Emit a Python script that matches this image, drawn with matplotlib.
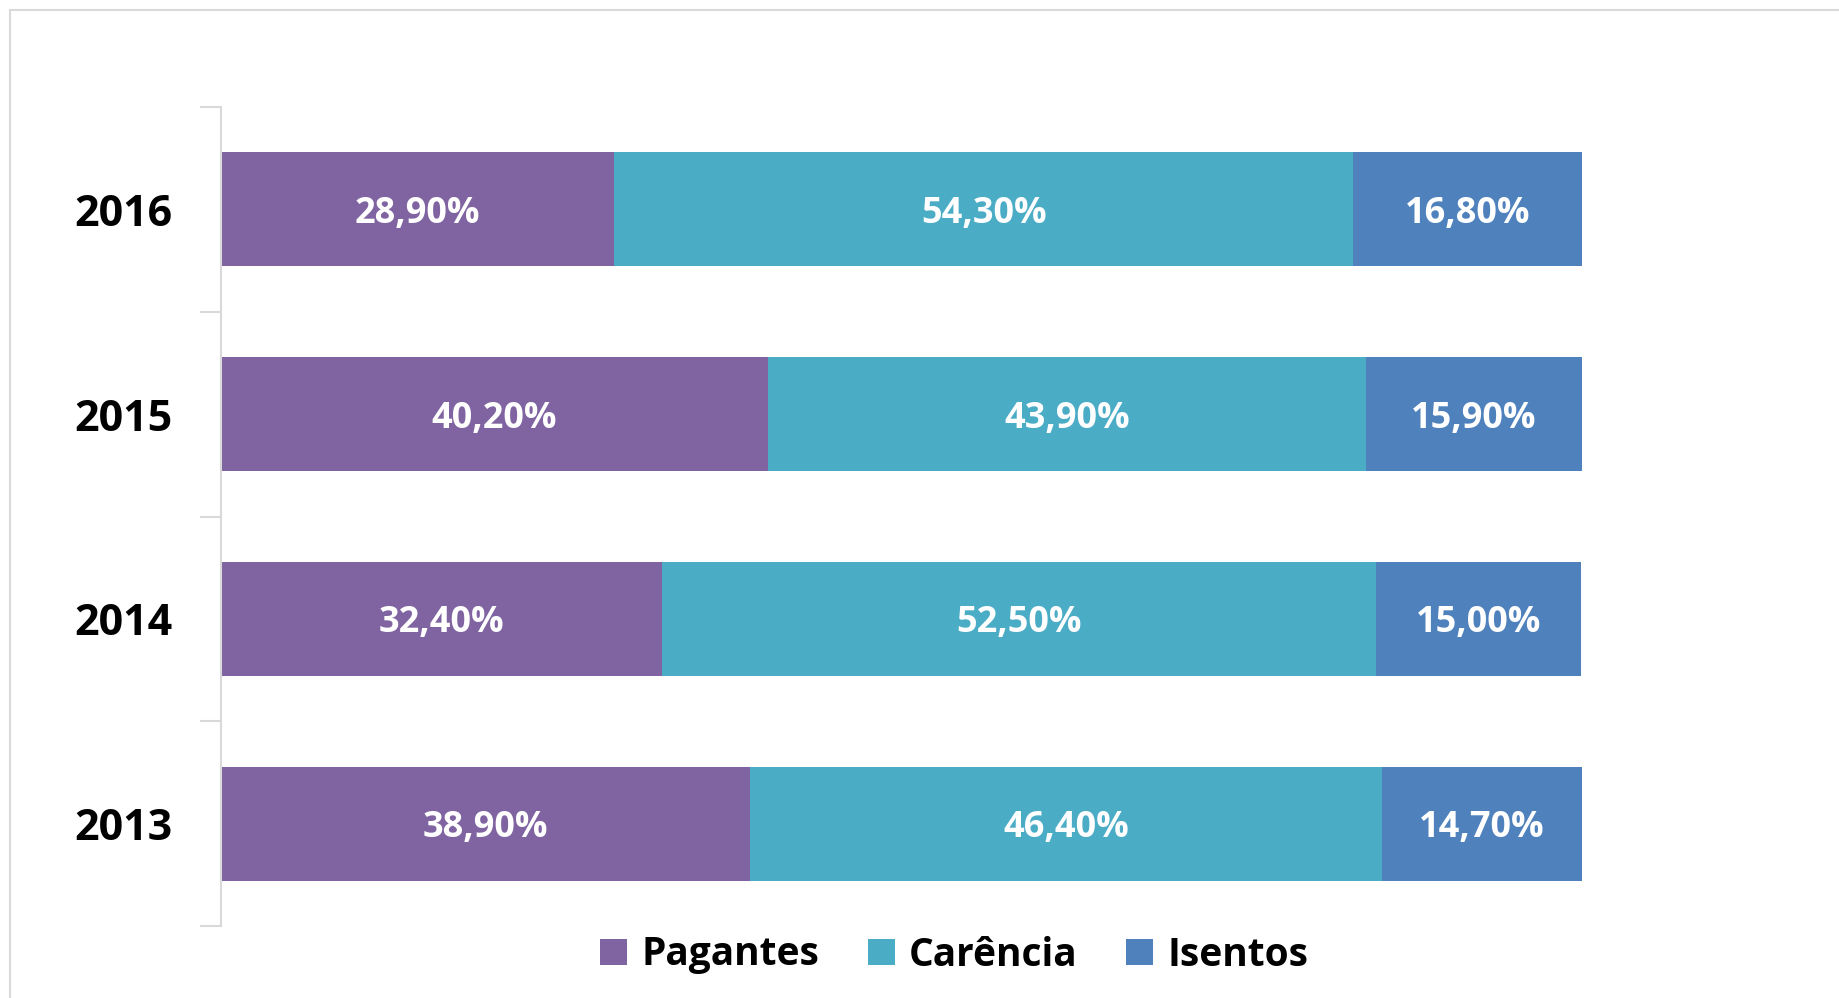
import matplotlib
matplotlib.use("Agg")
import matplotlib.pyplot as plt
from matplotlib.patches import Rectangle
import numpy as np

years = ["2013", "2014", "2015", "2016"]
series = ["Pagantes", "Carência", "Isentos"]
pagantes = [38.9, 32.4, 40.2, 28.9]
carencia = [46.4, 52.5, 43.9, 54.3]
isentos = [14.7, 15.0, 15.9, 16.8]
colors = ["#8064A2", "#4BACC6", "#4F81BD"]

plt.rcParams["font.family"] = ["Open Sans", "DejaVu Sans"]

fig = plt.figure(figsize=(18.39, 9.98), dpi=100)
ax = fig.add_axes([221 / 1839, 1 - 926 / 998, 1361 / 1839, 819 / 998])

# chart frame
fig.patches.append(Rectangle((9.5 / 1839, -0.1), 1.2, 1 - 10 / 998 + 0.1,
                             transform=fig.transFigure, fill=False,
                             edgecolor="#D9D9D9", linewidth=1.5))

ypos = np.arange(len(years))
left = np.zeros(len(years))
for name, vals, c in zip(series, [pagantes, carencia, isentos], colors):
    vals = np.array(vals) / 100
    bars = ax.barh(ypos, vals, left=left, height=0.557, color=c, label=name)
    for b, v in zip(bars, vals):
        ax.text(b.get_x() + b.get_width() / 2, b.get_y() + b.get_height() / 2,
                f"{v * 100:.2f}%".replace(".", ","), ha="center",
                va="center_baseline", color="white", fontsize=26,
                fontweight="bold")
    left += vals

ax.set_xlim(0, 1)
ax.set_ylim(-0.5, 3.5)
ax.set_xticks([])
ax.set_yticks(ypos)
ax.set_yticklabels(years, fontsize=31, fontweight="bold")
ax.set_yticks(np.arange(-0.5, 4, 1), minor=True)
ax.tick_params(axis="y", which="major", length=0, pad=35)
ax.tick_params(axis="y", which="minor", length=15, width=1.5, color="#D9D9D9")
for s in ["top", "right", "bottom"]:
    ax.spines[s].set_visible(False)
ax.spines["left"].set_color("#D9D9D9")
ax.spines["left"].set_linewidth(1.5)

fig.legend(loc="center", bbox_to_anchor=(954 / 1839, 1 - 955 / 998), ncol=3,
           frameon=False, prop={"size": 28, "weight": "bold"},
           handlelength=0.7, handleheight=0.67, handletextpad=0.36,
           columnspacing=1.25)

fig.savefig("out.png", dpi=100)
